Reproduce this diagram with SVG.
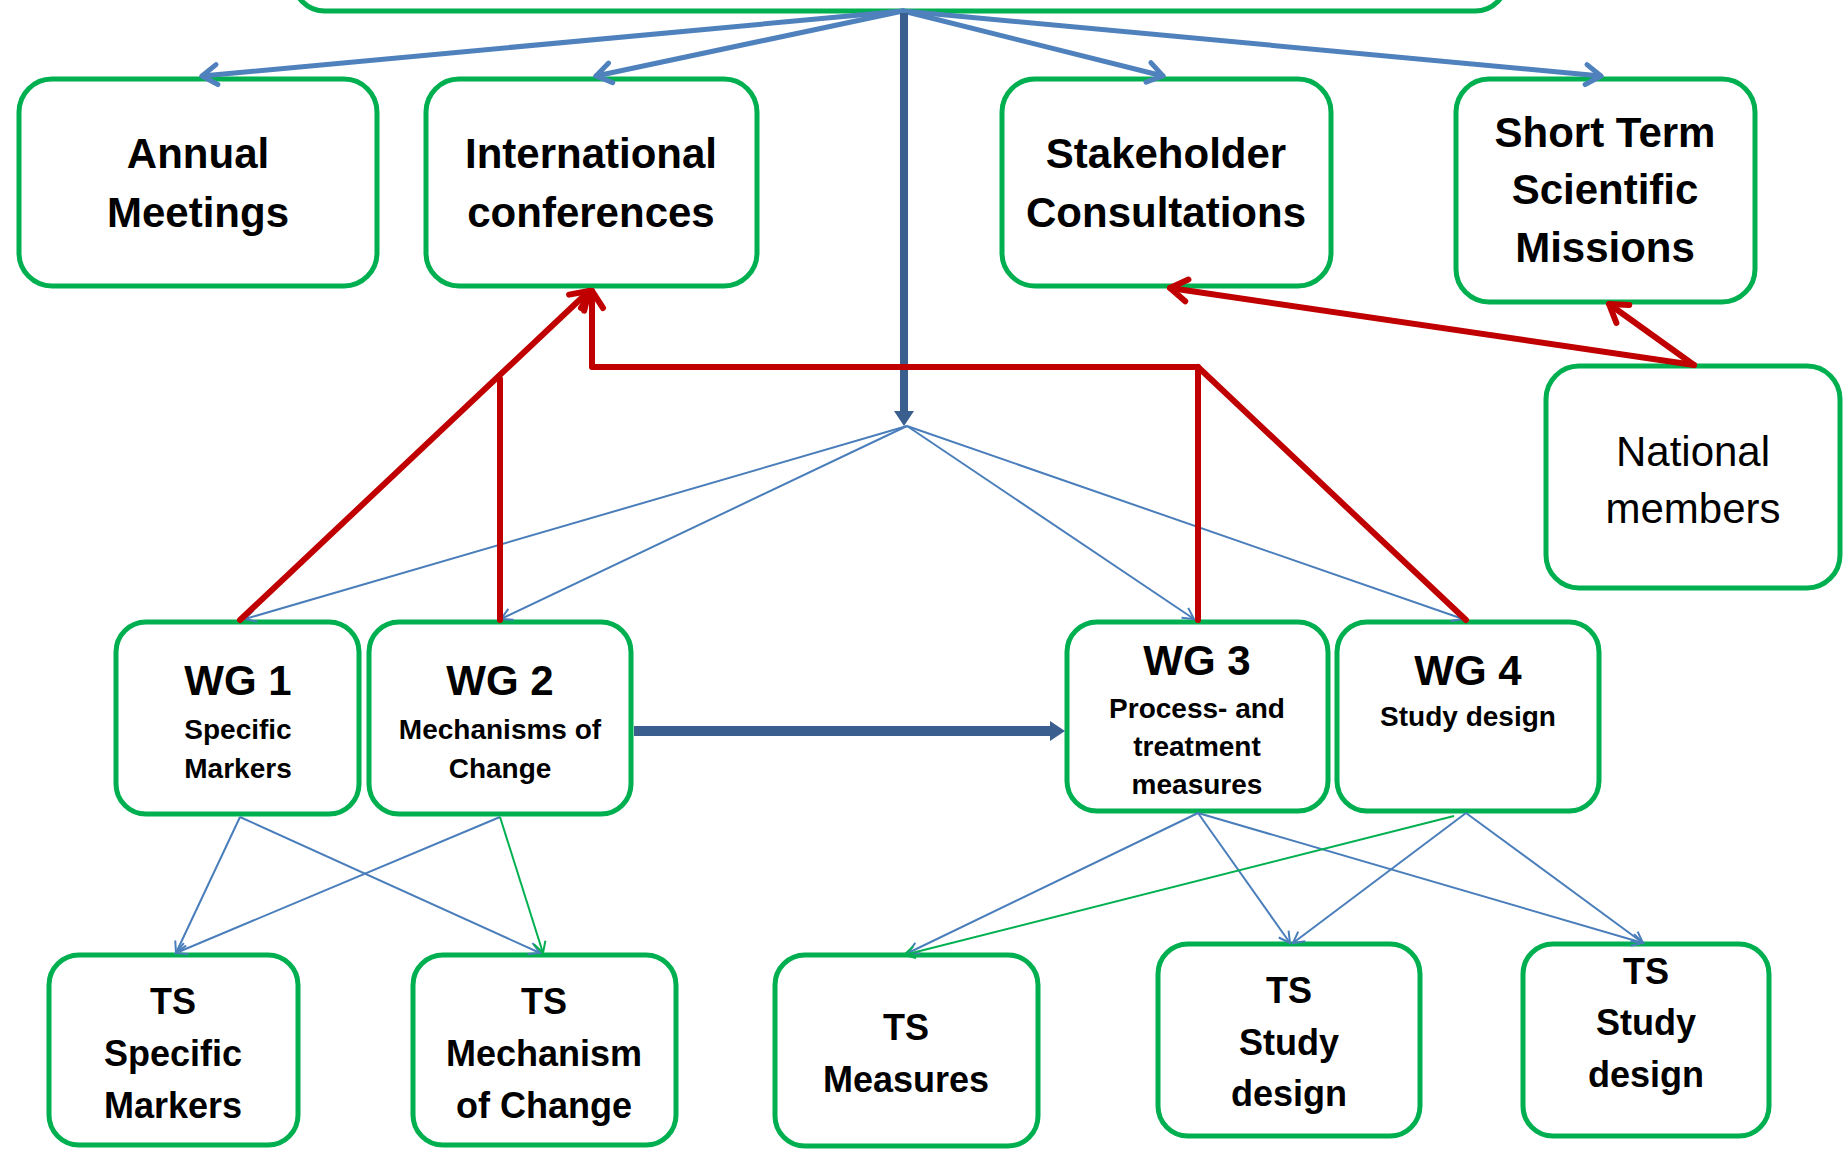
<svg xmlns="http://www.w3.org/2000/svg" width="1845" height="1153" viewBox="0 0 1845 1153">
<style>
.box{fill:#fff;stroke:#00B050;stroke-width:5}
.t{font-family:"Liberation Sans",Arial,sans-serif;font-weight:bold;fill:#000;text-anchor:middle}
.big{font-size:42px}
.reg{font-weight:normal}
.sub{font-size:28px}
.ts{font-size:36px}
.bt{stroke:#4F81BD;stroke-width:5;fill:none;stroke-linecap:round}
.thin{stroke:#4A7EBB;stroke-width:2;fill:none}
.gthin{stroke:#00B050;stroke-width:2;fill:none}
.red{stroke:#C00000;stroke-width:6;fill:none;stroke-linecap:round;stroke-linejoin:round}
.dark{stroke:#3A5F8F;fill:none}
</style>
<defs>
<marker id="aBlue" markerUnits="userSpaceOnUse" markerWidth="1" markerHeight="1" refX="0" refY="0" orient="auto" overflow="visible"><path d="M-15,-10 L0,0 L-15,10" fill="none" stroke="#4F81BD" stroke-width="5" stroke-linecap="round" stroke-linejoin="round"/></marker>
<marker id="aRed" markerUnits="userSpaceOnUse" markerWidth="1" markerHeight="1" refX="0" refY="0" orient="auto" overflow="visible"><path d="M-17,-11 L0,0 L-17,11" fill="none" stroke="#C00000" stroke-width="6" stroke-linecap="round" stroke-linejoin="round"/></marker>
<marker id="aThin" markerUnits="userSpaceOnUse" markerWidth="1" markerHeight="1" refX="0" refY="0" orient="auto" overflow="visible"><path d="M-11,-6 L0,0 L-11,6" fill="none" stroke="#4A7EBB" stroke-width="2"/></marker>
<marker id="aGreen" markerUnits="userSpaceOnUse" markerWidth="1" markerHeight="1" refX="0" refY="0" orient="auto" overflow="visible"><path d="M-11,-6 L0,0 L-11,6" fill="none" stroke="#00B050" stroke-width="2"/></marker>
<marker id="aTri" markerUnits="userSpaceOnUse" markerWidth="1" markerHeight="1" refX="0" refY="0" orient="auto" overflow="visible"><path d="M0,-10 L15,0 L0,10 Z" fill="#3A5F8F"/></marker>
</defs>

<g id="top"><rect class="box" x="293" y="-100" width="1214" height="111" rx="32"/></g>

<g id="annual"><rect class="box" x="19" y="79" width="358" height="207" rx="33"/>
<text class="t big" x="198" y="168">Annual</text><text class="t big" x="198" y="227">Meetings</text></g>
<g id="intconf"><rect class="box" x="426" y="79" width="331" height="207" rx="33"/>
<text class="t big" x="591" y="168">International</text><text class="t big" x="591" y="227">conferences</text></g>
<g id="stake"><rect class="box" x="1002" y="79" width="329" height="207" rx="33"/>
<text class="t big" x="1166" y="168">Stakeholder</text><text class="t big" x="1166" y="227">Consultations</text></g>
<g id="stsm"><rect class="box" x="1456" y="79" width="299" height="223" rx="33"/>
<text class="t big" x="1605" y="147">Short Term</text><text class="t big" x="1605" y="204">Scientific</text><text class="t big" x="1605" y="262">Missions</text></g>
<g id="national"><rect class="box" x="1546" y="366" width="294" height="222" rx="33"/>
<text class="t big reg" x="1693" y="466">National</text><text class="t big reg" x="1693" y="523">members</text></g>

<g id="wg1"><rect class="box" x="116" y="622" width="243" height="192" rx="30"/>
<text class="t big" x="238" y="695">WG 1</text><text class="t sub" x="238" y="739">Specific</text><text class="t sub" x="238" y="778">Markers</text></g>
<g id="wg2"><rect class="box" x="369" y="622" width="262" height="192" rx="30"/>
<text class="t big" x="500" y="695">WG 2</text><text class="t sub" x="500" y="739">Mechanisms of</text><text class="t sub" x="500" y="778">Change</text></g>
<g id="wg3"><rect class="box" x="1067" y="622" width="261" height="189" rx="30"/>
<text class="t big" x="1197" y="675">WG 3</text><text class="t sub" x="1197" y="718">Process- and</text><text class="t sub" x="1197" y="756">treatment</text><text class="t sub" x="1197" y="794">measures</text></g>
<g id="wg4"><rect class="box" x="1337" y="622" width="262" height="189" rx="30"/>
<text class="t big" x="1468" y="685">WG 4</text><text class="t sub" x="1468" y="726">Study design</text></g>

<g id="ts1"><rect class="box" x="49" y="955" width="249" height="190" rx="30"/>
<text class="t ts" x="173" y="1014">TS</text><text class="t ts" x="173" y="1066">Specific</text><text class="t ts" x="173" y="1118">Markers</text></g>
<g id="ts2"><rect class="box" x="413" y="955" width="263" height="190" rx="30"/>
<text class="t ts" x="544" y="1014">TS</text><text class="t ts" x="544" y="1066">Mechanism</text><text class="t ts" x="544" y="1118">of Change</text></g>
<g id="ts3"><rect class="box" x="775" y="955" width="263" height="191" rx="30"/>
<text class="t ts" x="906" y="1040">TS</text><text class="t ts" x="906" y="1092">Measures</text></g>
<g id="ts4"><rect class="box" x="1158" y="944" width="262" height="192" rx="30"/>
<text class="t ts" x="1289" y="1003">TS</text><text class="t ts" x="1289" y="1055">Study</text><text class="t ts" x="1289" y="1106">design</text></g>
<g id="ts5"><rect class="box" x="1523" y="944" width="246" height="192" rx="30"/>
<text class="t ts" x="1646" y="984">TS</text><text class="t ts" x="1646" y="1035">Study</text><text class="t ts" x="1646" y="1087">design</text></g>

<g id="connectors">
<path class="bt" d="M903,11 L202,76" marker-end="url(#aBlue)"/>
<path class="bt" d="M903,11 L596,76" marker-end="url(#aBlue)"/>
<path class="bt" d="M903,11 L1163,76" marker-end="url(#aBlue)"/>
<path class="bt" d="M903,11 L1601,76" marker-end="url(#aBlue)"/>
<path class="dark" stroke-width="8" d="M904,13 L904,411" marker-end="url(#aTri)"/>
<path class="dark" stroke-width="10" d="M634,731 L1050,731" marker-end="url(#aTri)"/>
<path class="thin" d="M907,426 L245,619" marker-end="url(#aThin)"/>
<path class="thin" d="M907,426 L501,619" marker-end="url(#aThin)"/>
<path class="thin" d="M907,426 L1194,619" marker-end="url(#aThin)"/>
<path class="thin" d="M907,426 L1463,619" marker-end="url(#aThin)"/>
<path class="red" d="M240,620 L589,291" marker-end="url(#aRed)"/>
<path class="red" d="M1198,620 L1198,367 L592,367 L592,291" marker-end="url(#aRed)"/>
<path class="red" d="M1466,620 L1198,367"/>
<path class="red" d="M500,620 L500,379"/>
<path class="red" d="M1694,365 L1170,288" marker-end="url(#aRed)"/>
<path class="red" d="M1694,365 L1609,304" marker-end="url(#aRed)"/>
<path class="thin" d="M240,817 L176,953" marker-end="url(#aThin)"/>
<path class="thin" d="M240,817 L540,953" marker-end="url(#aThin)"/>
<path class="thin" d="M500,817 L176,953" marker-end="url(#aThin)"/>
<path class="gthin" d="M500,817 L543,953" marker-end="url(#aGreen)"/>
<path class="thin" d="M1198,813 L908,953" marker-end="url(#aThin)"/>
<path class="thin" d="M1198,813 L1290,943" marker-end="url(#aThin)"/>
<path class="thin" d="M1198,813 L1643,943" marker-end="url(#aThin)"/>
<path class="thin" d="M1466,813 L1293,943" marker-end="url(#aThin)"/>
<path class="thin" d="M1466,813 L1643,943" marker-end="url(#aThin)"/>
<path class="gthin" d="M1454,816 L904,955" marker-end="url(#aGreen)"/>
</g>
</svg>
